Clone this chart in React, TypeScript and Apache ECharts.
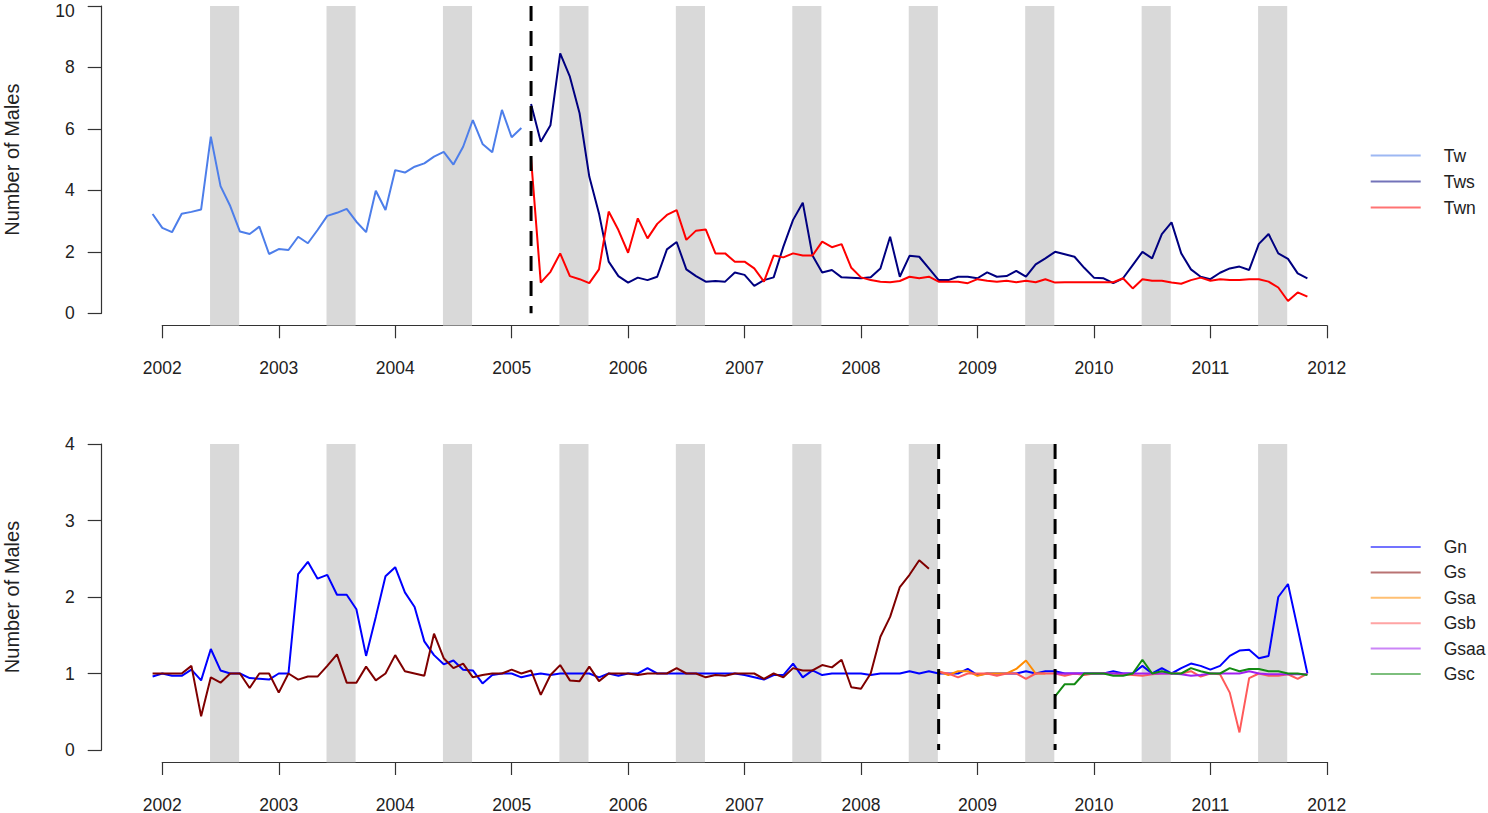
import React, { useEffect, useRef } from "react";
import * as echarts from "echarts";

// ---------- data (monthly values) ----------
const yearTicks = [2002, 2003, 2004, 2005, 2006, 2007, 2008, 2009, 2010, 2011, 2012];
const bandYears = [2002, 2003, 2004, 2005, 2006, 2007, 2008, 2009, 2010, 2011];
const bandStartMonth = 4.92; // months after January (early June)
const bandEndMonth = 7.92; // end of August

const topBreaks = ["2005-03"];
const bottomBreaks = ["2008-09", "2009-09"];

const twStart = "2001-12";
const tw = [3.23, 2.78, 2.64, 3.24, 3.3, 3.38, 5.75, 4.14, 3.49, 2.66, 2.58, 2.82, 1.93, 2.09, 2.06, 2.49, 2.28, 2.71, 3.17, 3.27, 3.4, 2.98, 2.64, 3.99, 3.36, 4.66, 4.58, 4.77, 4.88, 5.1, 5.25, 4.84, 5.42, 6.29, 5.51, 5.24, 6.62, 5.73, 6.03];

const twsStart = "2005-03";
const tws = [6.81, 5.58, 6.12, 8.46, 7.7, 6.51, 4.45, 3.25, 1.68, 1.21, 1.0, 1.16, 1.08, 1.19, 2.08, 2.32, 1.43, 1.21, 1.03, 1.05, 1.03, 1.33, 1.25, 0.89, 1.08, 1.17, 2.17, 3.04, 3.6, 1.88, 1.33, 1.41, 1.17, 1.16, 1.14, 1.17, 1.46, 2.49, 1.19, 1.87, 1.84, 1.46, 1.08, 1.08, 1.19, 1.19, 1.14, 1.33, 1.19, 1.21, 1.38, 1.19, 1.59, 1.79, 2.0, 1.92, 1.84, 1.48, 1.16, 1.14, 0.98, 1.14, 1.57, 2.0, 1.79, 2.58, 2.96, 1.95, 1.43, 1.19, 1.11, 1.32, 1.46, 1.52, 1.41, 2.26, 2.58, 1.95, 1.77, 1.3, 1.14];

const twnStart = "2005-03";
const twn = [5.04, 1.0, 1.35, 1.95, 1.21, 1.11, 0.98, 1.43, 3.31, 2.71, 1.97, 3.09, 2.44, 2.91, 3.2, 3.36, 2.39, 2.69, 2.73, 1.95, 1.95, 1.68, 1.68, 1.46, 1.03, 1.88, 1.82, 1.95, 1.88, 1.88, 2.33, 2.15, 2.25, 1.48, 1.17, 1.08, 1.03, 1.01, 1.05, 1.19, 1.14, 1.19, 1.03, 1.03, 1.03, 0.98, 1.11, 1.06, 1.03, 1.06, 1.01, 1.06, 1.01, 1.11, 1.0, 1.01, 1.01, 1.01, 1.01, 1.01, 1.01, 1.14, 0.81, 1.11, 1.06, 1.06, 1.0, 0.96, 1.08, 1.16, 1.06, 1.11, 1.08, 1.08, 1.11, 1.11, 1.03, 0.84, 0.4, 0.68, 0.54];

const gnStart = "2001-12";
const gn = [0.96, 1.0, 0.97, 0.97, 1.05, 0.91, 1.32, 1.04, 1.0, 1.0, 0.94, 0.93, 0.92, 1.0, 1.0, 2.3, 2.46, 2.24, 2.29, 2.03, 2.03, 1.84, 1.23, 1.74, 2.27, 2.39, 2.06, 1.87, 1.42, 1.24, 1.12, 1.17, 1.05, 1.04, 0.87, 0.98, 1.0, 1.0, 0.95, 0.98, 1.0, 0.98, 1.0, 1.0, 1.0, 1.0, 0.95, 1.0, 0.97, 1.0, 1.0, 1.07, 1.0, 1.0, 1.0, 1.0, 1.0, 1.0, 1.0, 1.0, 1.0, 0.98, 0.95, 0.92, 0.98, 0.98, 1.13, 0.95, 1.04, 0.98, 1.0, 1.0, 1.0, 1.0, 0.98, 1.0, 1.0, 1.0, 1.03, 1.0, 1.03, 1.0, 1.0, 1.0, 1.06, 0.98, 1.0, 1.0, 1.0, 1.0, 1.03, 1.0, 1.03, 1.03, 1.0, 1.0, 1.0, 1.0, 1.0, 1.03, 1.0, 1.0, 1.1, 1.0, 1.07, 1.0, 1.07, 1.13, 1.1, 1.05, 1.1, 1.23, 1.3, 1.31, 1.2, 1.23, 2.0, 2.17, 1.59, 1.0];

const gsStart = "2001-12";
const gs = [1.0, 1.0, 1.0, 1.0, 1.1, 0.44, 0.95, 0.88, 1.0, 1.0, 0.81, 1.0, 1.0, 0.75, 1.0, 0.92, 0.96, 0.96, 1.1, 1.25, 0.88, 0.88, 1.09, 0.91, 1.0, 1.24, 1.03, 1.0, 0.97, 1.52, 1.2, 1.07, 1.13, 0.95, 0.98, 1.0, 1.0, 1.05, 1.0, 1.04, 0.72, 0.98, 1.11, 0.91, 0.9, 1.09, 0.9, 1.0, 1.0, 1.0, 0.98, 1.0, 1.0, 1.0, 1.07, 1.0, 1.0, 0.95, 0.98, 0.97, 1.0, 1.0, 1.0, 0.93, 1.0, 0.95, 1.07, 1.04, 1.04, 1.11, 1.08, 1.18, 0.82, 0.8, 1.0, 1.48, 1.74, 2.13, 2.29, 2.48, 2.37];

const gsaStart = "2008-09";
const gsa = [1.03, 0.98, 1.03, 1.03, 0.97, 1.0, 1.0, 1.0, 1.06, 1.17, 1.0, 1.0];

const gsbStart = "2008-09";
const gsb = [1.02, 1.0, 0.95, 1.0, 1.0, 1.0, 0.97, 1.0, 1.0, 0.93, 1.0, 1.0, 1.0, 0.97, 1.0, 0.98, 1.0, 1.0, 1.0, 0.99, 0.98, 0.97, 0.99, 1.0, 1.0, 1.0, 1.03, 0.96, 1.0, 0.99, 0.75, 0.23, 0.94, 1.0, 0.97, 0.97, 0.99, 0.93, 1.0];

const gsaaStart = "2009-09";
const gsaa = [1.0, 1.0, 1.0, 1.0, 1.0, 1.0, 1.0, 1.0, 1.0, 1.0, 1.0, 1.0, 1.0, 0.99, 0.97, 0.98, 1.0, 1.0, 1.0, 1.0, 1.03, 1.0, 0.99, 0.99, 0.99, 0.99, 0.99];

const gscStart = "2009-09";
const gsc = [0.7, 0.86, 0.86, 1.0, 1.0, 1.0, 0.97, 0.97, 1.0, 1.18, 1.0, 1.03, 1.0, 1.0, 1.07, 1.03, 1.0, 1.0, 1.07, 1.03, 1.06, 1.06, 1.03, 1.03, 1.0, 1.0, 0.98];

const topNames = ["Tw", "Tws", "Twn"];
const bottomNames = ["Gn", "Gs", "Gsa", "Gsb", "Gsaa", "Gsc"];
const yTitle = "Number of Males";

// ---------- helpers ----------
const FONT = "'Liberation Sans', Arial, Helvetica, sans-serif";
const AXIS_COLOR = "#333";
const TEXT_COLOR = "#222";

function monthX(start: string, i: number): number {
  const [y, m] = start.split("-").map(Number);
  return y + (m - 1 + i) / 12;
}
function toPairs(start: string, values: number[]) {
  return values.map((v, i) => [monthX(start, i), v]);
}

const X_MIN = 2001.5;
const X_MAX = 2012;
const PX_PER_YEAR = 116.45;
const AXIS_LEFT = 162.3;
const DATA_LEFT = AXIS_LEFT - (yearTicks[0] - X_MIN) * PX_PER_YEAR;
const DATA_WIDTH = (X_MAX - X_MIN) * PX_PER_YEAR;

function axisX(gridIndex: number, labelMargin: number) {
  return {
    type: "value",
    gridIndex,
    min: yearTicks[0],
    max: yearTicks[yearTicks.length - 1],
    interval: 1,
    position: "bottom",
    offset: 12,
    axisLine: { show: true, onZero: false, lineStyle: { color: AXIS_COLOR, width: 1.2 } },
    axisTick: { show: true, length: 13, lineStyle: { color: AXIS_COLOR, width: 1.2 } },
    axisLabel: { margin: labelMargin, fontSize: 17.5, lineHeight: 17, color: TEXT_COLOR, fontFamily: FONT, formatter: (v: number) => String(v) },
    splitLine: { show: false },
  };
}
function axisY(gridIndex: number, max: number, interval: number) {
  return {
    type: "value",
    gridIndex,
    min: 0,
    max,
    interval,
    position: "left",
    offset: 60.6,
    name: yTitle,
    nameLocation: "middle",
    nameRotate: 90,
    nameGap: 80,
    nameTextStyle: { fontSize: 20, color: TEXT_COLOR, fontFamily: FONT },
    axisLine: { show: true, onZero: false, lineStyle: { color: AXIS_COLOR, width: 1.2 } },
    axisTick: { show: true, length: 14, lineStyle: { color: AXIS_COLOR, width: 1.2 } },
    axisLabel: {
      margin: 27,
      fontSize: 17.5,
      color: TEXT_COLOR,
      fontFamily: FONT,
      formatter: (v: number) => (v >= 10 ? `{edge|${v}}` : String(v)),
      rich: {
        edge: { fontSize: 17.5, color: TEXT_COLOR, fontFamily: FONT, lineHeight: 16, padding: [10, 0, 0, 0] },
      },
    },
    splitLine: { show: false },
  };
}
function hiddenX(gridIndex: number) {
  return { type: "value", gridIndex, min: X_MIN, max: X_MAX, show: false, splitLine: { show: false } };
}
function hiddenY(gridIndex: number, min: number, max: number) {
  return { type: "value", gridIndex, min, max, show: false, splitLine: { show: false } };
}

function bandSeries(axisIndex: number, yLow: number, yHigh: number) {
  return {
    type: "custom",
    xAxisIndex: axisIndex,
    yAxisIndex: axisIndex,
    silent: true,
    z: 1,
    data: bandYears.map((y) => [y + bandStartMonth / 12, y + bandEndMonth / 12, yLow, yHigh]),
    encode: { x: [0, 1], y: [2, 3] },
    renderItem: (params: any, api: any) => {
      const p0 = api.coord([api.value(0), api.value(3)]);
      const p1 = api.coord([api.value(1), api.value(2)]);
      return {
        type: "rect",
        shape: { x: p0[0], y: p0[1], width: p1[0] - p0[0], height: p1[1] - p0[1] },
        style: { fill: "#d9d9d9" },
      };
    },
  };
}

function breakSeries(axisIndex: number, breaks: string[], yHigh: number) {
  return {
    type: "custom",
    xAxisIndex: axisIndex,
    yAxisIndex: axisIndex,
    silent: true,
    z: 5,
    data: breaks.map((b) => [monthX(b, 0), 0, yHigh]),
    encode: { x: 0, y: [1, 2] },
    renderItem: (params: any, api: any) => {
      const top = api.coord([api.value(0), api.value(2)]);
      const bot = api.coord([api.value(0), api.value(1)]);
      return {
        type: "line",
        shape: { x1: top[0], y1: top[1], x2: bot[0], y2: bot[1] },
        style: { stroke: "#000", lineWidth: 3, lineDash: [15, 10], fill: null },
      };
    },
  };
}

function lineSeries(name: string, axisIndex: number, start: string, values: number[], color: string) {
  return {
    name,
    type: "line",
    xAxisIndex: axisIndex,
    yAxisIndex: axisIndex,
    data: toPairs(start, values),
    showSymbol: false,
    symbol: "none",
    z: 3,
    color,
    lineStyle: { color, width: 2 },
  };
}

function legendCfg(names: string[], top: number, lineHeight: number) {
  return {
    orient: "vertical",
    left: 1370.7,
    top,
    padding: 0,
    itemGap: 0,
    itemWidth: 50,
    itemHeight: 2,
    icon: "rect",
    selectedMode: false,
    itemStyle: { opacity: 0.55 },
    textStyle: { fontSize: 17.5, color: TEXT_COLOR, fontFamily: FONT, lineHeight, padding: [0, 0, 0, 18] },
    data: names,
  };
}

function gridCfg(left: number, top: number, width: number, height: number) {
  return { left, top, width, height, containLabel: false, outerBoundsMode: "none" };
}

export default function App() {
  const ref = useRef<HTMLDivElement>(null);
  useEffect(() => {
    if (!ref.current) return;
    const chart = echarts.init(ref.current, undefined, { renderer: "svg" });
    const option: any = {
      animation: false,
      backgroundColor: "#ffffff",
      textStyle: { fontFamily: FONT },
      grid: [
        gridCfg(AXIS_LEFT, 6, 10 * PX_PER_YEAR, 307.3),
        gridCfg(DATA_LEFT, 6, DATA_WIDTH, 307.3 * 1.04),
        gridCfg(AXIS_LEFT, 444, 10 * PX_PER_YEAR, 306),
        gridCfg(DATA_LEFT, 444, DATA_WIDTH, 306 * 1.04),
      ],
      xAxis: [axisX(0, 34.5), hiddenX(1), axisX(2, 34), hiddenX(3)],
      yAxis: [axisY(0, 10, 2), hiddenY(1, -0.4, 10), axisY(2, 4, 1), hiddenY(3, -0.16, 4)],
      legend: [legendCfg(topNames, 142.5, 26), legendCfg(bottomNames, 534.3, 25.4)],
      series: [
        bandSeries(1, -0.4, 10),
        bandSeries(3, -0.16, 4),
        lineSeries("Tw", 1, twStart, tw, "#4d7eea"),
        lineSeries("Tws", 1, twsStart, tws, "#000080"),
        lineSeries("Twn", 1, twnStart, twn, "#ff0000"),
        breakSeries(1, topBreaks, 10),
        lineSeries("Gn", 3, gnStart, gn, "#0000ff"),
        lineSeries("Gs", 3, gsStart, gs, "#7f0000"),
        lineSeries("Gsa", 3, gsaStart, gsa, "#ff8c00"),
        lineSeries("Gsb", 3, gsbStart, gsb, "#ff5a5a"),
        lineSeries("Gsaa", 3, gsaaStart, gsaa, "#a020f0"),
        lineSeries("Gsc", 3, gscStart, gsc, "#138a13"),
        breakSeries(3, bottomBreaks, 4),
      ],
    };
    chart.setOption(option);
    return () => chart.dispose();
  }, []);
  return (
    <div
      ref={ref}
      style={{ position: "absolute", left: 0, top: 0, width: 1488, height: 813, background: "#fff" }}
    />
  );
}
